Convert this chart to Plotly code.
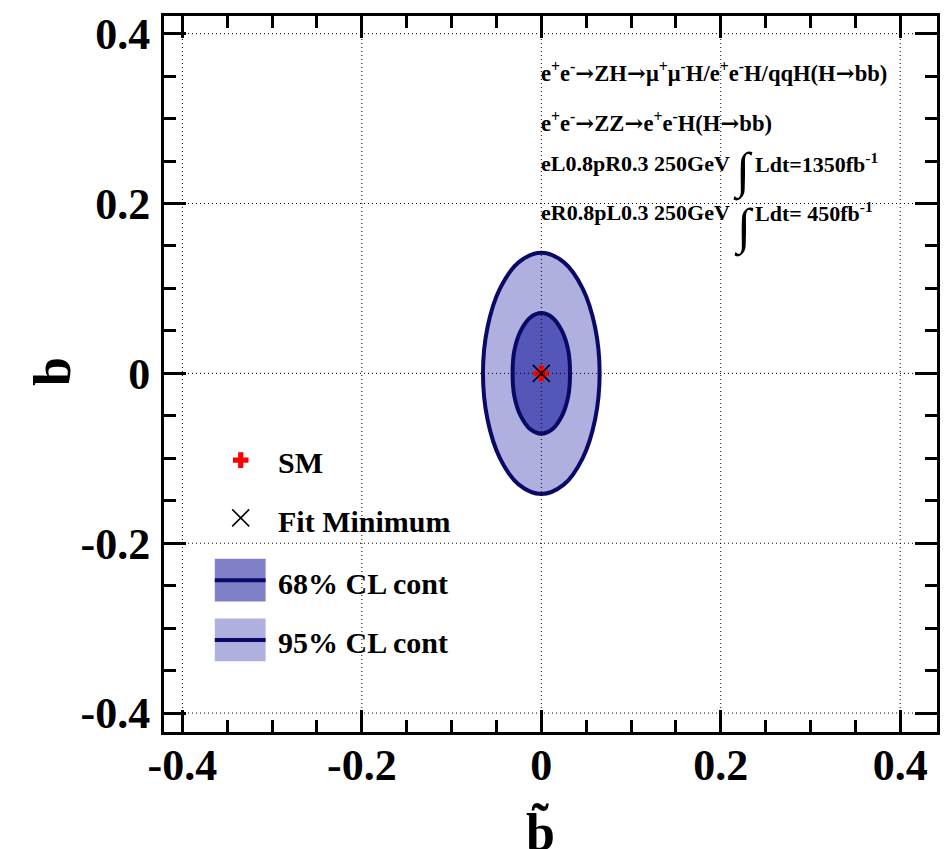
import plotly.graph_objects as go

# ---- data -------------------------------------------------------------
# 95% CL contour in the (b~, b) plane
cl95_x = [0.065, 0.060, 0.046, 0.025, 0.0, -0.025, -0.046, -0.060, -0.065,
          -0.060, -0.046, -0.025, 0.0, 0.025, 0.046, 0.060, 0.065]
cl95_y = [0.0, 0.054, 0.100, 0.131, 0.142, 0.131, 0.100, 0.054, 0.0,
          -0.054, -0.100, -0.131, -0.142, -0.131, -0.100, -0.054, 0.0]
# 68% CL contour
cl68_x = [0.032, 0.030, 0.023, 0.012, 0.0, -0.012, -0.023, -0.030, -0.032,
          -0.030, -0.023, -0.012, 0.0, 0.012, 0.023, 0.030, 0.032]
cl68_y = [0.0, 0.027, 0.050, 0.066, 0.071, 0.066, 0.050, 0.027, 0.0,
          -0.027, -0.050, -0.066, -0.071, -0.066, -0.050, -0.027, 0.0]
# Standard Model point and fit minimum
sm_point = [0.0, 0.0]
fit_min = [0.0, 0.0]

tick_vals = [-0.4, -0.2, 0.0, 0.2, 0.4]
tick_text = ["-0.4", "-0.2", "0", "0.2", "0.4"]

ARROW = '<span style="font-family:DejaVu Serif">→</span>'
legend_labels = ["SM", "Fit Minimum", "68% CL cont", "95% CL cont"]
info_lines = [
    "e<sup>+</sup>e<sup>-</sup>" + ARROW + "ZH" + ARROW
    + "μ<sup>+</sup>μ<sup>-</sup>H/e<sup>+</sup>e<sup>-</sup>H/qqH(H" + ARROW + "bb)",
    "e<sup>+</sup>e<sup>-</sup>" + ARROW + "ZZ" + ARROW
    + "e<sup>+</sup>e<sup>-</sup>H(H" + ARROW + "bb)",
]
run_labels = ["eL0.8pR0.3 250GeV", "eR0.8pL0.3 250GeV"]
lumi_labels = ["Ldt=1350fb<sup>-1</sup>", "Ldt= 450fb<sup>-1</sup>"]

# ---- style ------------------------------------------------------------
FONT = "Liberation Serif"
NAVY = "#0a0a66"
FILL95 = "#b0b0e0"
FILL68 = "#5457b7"
LEG68 = "#8080c8"
LEG95 = "#b0b0e0"

W, H = 950, 849
L, R, T, B = 164, 940, 13, 732
PW, PH = R - L, B - T
X_RANGE = [-0.4205, 0.441]
Y_RANGE = [-0.4223, 0.4208]


def px(x):
    return (x - L) / PW


def py(y):
    return (B - y) / PH


fig = go.Figure()

fig.add_trace(go.Scatter(
    x=cl95_x, y=cl95_y, mode="lines", line=dict(color=NAVY, width=4, shape="spline"),
    fill="toself", fillcolor=FILL95, showlegend=False, hoverinfo="skip"))
fig.add_trace(go.Scatter(
    x=cl68_x, y=cl68_y, mode="lines", line=dict(color=NAVY, width=4, shape="spline"),
    fill="toself", fillcolor=FILL68, showlegend=False, hoverinfo="skip"))
fig.add_trace(go.Scatter(
    x=[sm_point[0]], y=[sm_point[1]], mode="markers",
    marker=dict(symbol="cross", size=13, color="red", line=dict(width=0)),
    showlegend=False, hoverinfo="skip"))
fig.add_trace(go.Scatter(
    x=[fit_min[0]], y=[fit_min[1]], mode="markers",
    marker=dict(symbol="x-thin-open", size=17, color="black", line=dict(width=1.5, color="black")),
    showlegend=False, hoverinfo="skip"))

# legend glyphs on an overlay axis spanning the plot area in fractions
fig.add_trace(go.Scatter(
    x=[px(241)], y=[py(459)], xaxis="x2", yaxis="y2", mode="markers",
    marker=dict(symbol="cross", size=13, color="red", line=dict(width=0)),
    showlegend=False, hoverinfo="skip"))
fig.add_trace(go.Scatter(
    x=[px(241)], y=[py(517)], xaxis="x2", yaxis="y2", mode="markers",
    marker=dict(symbol="x-thin-open", size=17, color="black", line=dict(width=1.5, color="black")),
    showlegend=False, hoverinfo="skip"))

shapes = []
# legend boxes for the contours
for (y0, y1, ym, col) in [(558, 601, 579.5, LEG68), (618, 661, 639.5, LEG95)]:
    shapes.append(dict(type="rect", xref="paper", yref="paper",
                       x0=px(215), x1=px(266), y0=py(y1), y1=py(y0),
                       fillcolor=col, line=dict(width=0), layer="above"))
    shapes.append(dict(type="line", xref="paper", yref="paper",
                       x0=px(215), x1=px(266), y0=py(ym), y1=py(ym),
                       line=dict(color=NAVY, width=4), layer="above"))
# dotted grid drawn over the contours
for v in tick_vals:
    shapes.append(dict(type="line", xref="x", yref="y", x0=v, x1=v,
                       y0=Y_RANGE[0], y1=Y_RANGE[1],
                       line=dict(color="black", width=1, dash="1px,3px"), layer="above"))
    shapes.append(dict(type="line", xref="x", yref="y", y0=v, y1=v,
                       x0=X_RANGE[0], x1=X_RANGE[1],
                       line=dict(color="black", width=1, dash="1px,3px"), layer="above"))

ann = []


def text(x, y, s, size, anchor="left", angle=0):
    ann.append(dict(x=px(x), y=py(y), xref="paper", yref="paper", text=s,
                    showarrow=False, xanchor=anchor, yanchor="middle", textangle=angle,
                    font=dict(family=FONT, size=size, color="black", weight="bold")))


# legend labels
for lab, yc in zip(legend_labels, [461, 521, 583, 642]):
    text(276, yc, lab, 30)

# process / luminosity block
text(540, 69, info_lines[0], 22.6)
text(540, 119, info_lines[1], 22.6)
text(540, 161, run_labels[0], 22)
text(540, 210, run_labels[1], 22)
text(745, 169, "∫", 50, anchor="center")
text(746, 225, "∫", 50, anchor="center")
text(755, 161, lumi_labels[0], 22)
text(755, 210, lumi_labels[1], 22)

# axis titles
text(52, 370, "b", 52, anchor="center", angle=-90)
text(542, 832, "b̃", 52, anchor="center")

axis_common = dict(
    showline=True, linewidth=3, linecolor="black", mirror="ticks",
    ticks="inside", ticklen=22, tickwidth=2.5, tickcolor="black",
    tickvals=tick_vals, ticktext=tick_text, showgrid=False, zeroline=False,
    tickfont=dict(family=FONT, size=44, color="black", weight="bold"),
    minor=dict(dtick=0.05, ticks="inside", ticklen=12, tickwidth=2.5, tickcolor="black",
               showgrid=False),
)

fig.update_layout(
    width=W, height=H,
    margin=dict(l=L, r=W - R, t=T, b=H - B),
    paper_bgcolor="white", plot_bgcolor="white",
    xaxis=dict(range=X_RANGE, ticklabelstandoff=-8, **axis_common),
    yaxis=dict(range=Y_RANGE, ticklabelstandoff=2, **axis_common),
    xaxis2=dict(overlaying="x", range=[0, 1], visible=False),
    yaxis2=dict(overlaying="y", range=[0, 1], visible=False),
    shapes=shapes, annotations=ann, showlegend=False,
)

fig.write_html("out.html")
